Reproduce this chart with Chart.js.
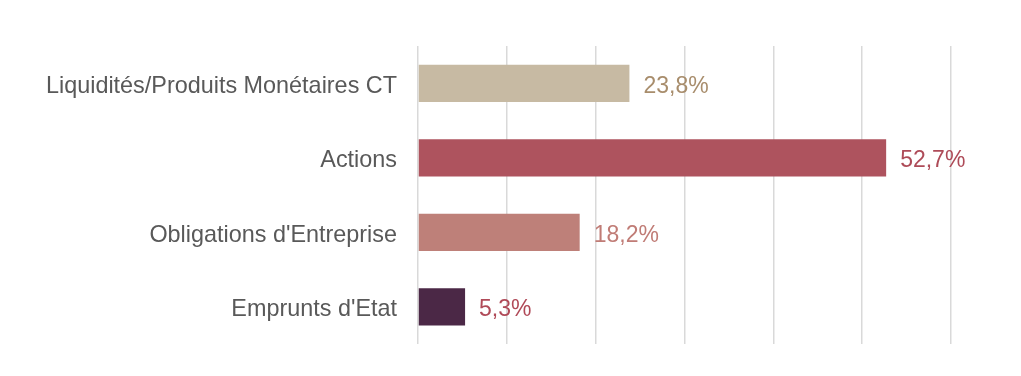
<!DOCTYPE html>
<html>
<head>
<meta charset="utf-8">
<script src="https://cdn.jsdelivr.net/npm/chart.js@4.4.0/dist/chart.umd.min.js"></script>
<style>
html,body{margin:0;padding:0;background:#fff;}
#wrap{width:1021px;height:376px;position:relative;}
</style>
</head>
<body>
<div id="wrap"><canvas id="c" width="1021" height="376"></canvas></div>
<script>
const categories = ["Liquidités/Produits Monétaires CT", "Actions", "Obligations d'Entreprise", "Emprunts d'Etat"];
const values = [23.8, 52.7, 18.2, 5.3];
const valueLabels = ["23,8%", "52,7%", "18,2%", "5,3%"];
const barColors = ["#c7baa3", "#ae535e", "#be8079", "#4b2846"];
const labelColors = ["#a88d6c", "#ae4b58", "#c07c76", "#b04a58"];

const valueLabelPlugin = {
  id: 'valueLabels',
  afterDatasetsDraw(chart) {
    const ctx = chart.ctx;
    const meta = chart.getDatasetMeta(0);
    ctx.save();
    ctx.font = '23px "Liberation Sans", Arial, sans-serif';
    ctx.textBaseline = 'middle';
    ctx.textAlign = 'left';
    meta.data.forEach((bar, i) => {
      ctx.fillStyle = labelColors[i];
      ctx.fillText(valueLabels[i], bar.x + 14, bar.y + 3);
    });
    ctx.restore();
  }
};

new Chart(document.getElementById('c'), {
  type: 'bar',
  data: {
    labels: categories,
    datasets: [{
      data: values,
      backgroundColor: barColors,
      borderWidth: 0,
      barPercentage: 0.5,
      categoryPercentage: 1.0
    }]
  },
  plugins: [valueLabelPlugin],
  options: {
    indexAxis: 'y',
    responsive: false,
    animation: false,
    devicePixelRatio: 1,
    layout: { padding: { left: 0, right: 70, top: 46, bottom: 32 } },
    plugins: { legend: { display: false }, tooltip: { enabled: false } },
    scales: {
      x: {
        min: 0, max: 60,
        ticks: { display: false, stepSize: 10 },
        grid: { color: '#d9d9d9', lineWidth: 1.5, drawTicks: false },
        border: { display: false },
        afterFit(scale) { scale.height = 0; scale.paddingLeft = 0; scale.paddingRight = 0; }
      },
      y: {
        ticks: {
          color: '#595959',
          font: { family: '"Liberation Sans", Arial, sans-serif', size: 23.4 },
          padding: 21,
          labelOffset: 3
        },
        grid: { display: false, drawTicks: false },
        border: { display: false },
        afterFit(scale) { scale.width = 418; scale.paddingTop = 0; scale.paddingBottom = 0; }
      }
    }
  }
});
</script>
</body>
</html>
